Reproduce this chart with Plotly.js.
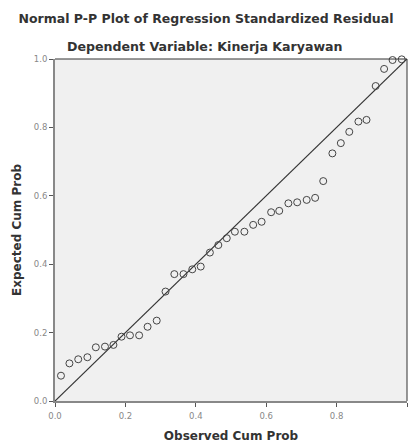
<!DOCTYPE html>
<html>
<head>
<meta charset="utf-8">
<script src="https://cdn.plot.ly/plotly-3.0.1.min.js"></script>
<style>html,body{margin:0;padding:0;background:#fff;}#chart{width:413px;height:443px;}</style>
</head>
<body>
<div id="chart"></div>
<script>
const observedCumProb = [0.017, 0.041, 0.066, 0.092, 0.116, 0.142, 0.166, 0.189, 0.213, 0.239,
  0.263, 0.289, 0.314, 0.339, 0.365, 0.390, 0.414, 0.440, 0.464, 0.488,
  0.511, 0.538, 0.563, 0.587, 0.614, 0.637, 0.663, 0.688, 0.715, 0.739,
  0.762, 0.788, 0.812, 0.836, 0.862, 0.885, 0.911, 0.935, 0.959, 0.985];
const expectedCumProb = [0.074, 0.110, 0.122, 0.128, 0.157, 0.159, 0.164, 0.188, 0.192, 0.192,
  0.217, 0.235, 0.320, 0.371, 0.371, 0.385, 0.393, 0.434, 0.456, 0.476,
  0.495, 0.495, 0.515, 0.524, 0.552, 0.556, 0.578, 0.581, 0.588, 0.594,
  0.643, 0.724, 0.754, 0.787, 0.817, 0.822, 0.921, 0.971, 0.997, 0.999];
const diagonalX = [0, 1];
const diagonalY = [0, 1];
const tickValues = [0, 0.2, 0.4, 0.6, 0.8, 1.0];
const tickLabels = ["0.0", "0.2", "0.4", "0.6", "0.8", "1.0"];

const FONT = 'DejaVu Sans, Arial, sans-serif';

const traces = [
  {
    x: diagonalX, y: diagonalY, type: 'scatter', mode: 'lines',
    line: {color: '#333333', width: 1.2}, hoverinfo: 'skip', showlegend: false
  },
  {
    x: observedCumProb, y: expectedCumProb, type: 'scatter', mode: 'markers',
    marker: {symbol: 'circle-open', size: 7, color: '#444444', line: {width: 1, color: '#444444'}},
    cliponaxis: false, showlegend: false
  }
];

const axisCommon = {
  range: [0, 1], tickvals: tickValues, ticktext: tickLabels,
  ticks: 'outside', ticklen: 4, tickcolor: '#555', tickwidth: 1,
  tickfont: {family: FONT, size: 8.5, color: '#888'},
  showgrid: false, zeroline: false, showline: true, linecolor: '#888', linewidth: 2,
  mirror: false, fixedrange: true
};

const layout = {
  width: 413, height: 443,
  margin: {l: 55, r: 6, t: 59, b: 42},
  paper_bgcolor: '#ffffff', plot_bgcolor: '#f0f0f0',
  title: {
    text: '<b>Normal P-P Plot of Regression Standardized Residual</b>',
    font: {family: FONT, size: 12.5, color: '#333'},
    x: 206 / 413, xref: 'container', xanchor: 'center', y: 1 - 19/443, yref: 'container', yanchor: 'middle'
  },
  annotations: [{
    text: '<b>Dependent Variable: Kinerja Karyawan</b>',
    xref: 'paper', yref: 'paper', x: (205 - 55) / 352, y: (401 - 46) / 342,
    xanchor: 'center', yanchor: 'middle', showarrow: false,
    font: {family: FONT, size: 12.6, color: '#333'}
  }],
  shapes: [
    {type: 'line', xref: 'paper', yref: 'paper', x0: 0, x1: 1, y0: 1, y1: 1, line: {color: '#333', width: 1}},
    {type: 'line', xref: 'paper', yref: 'paper', x0: 1, x1: 1, y0: 0, y1: 1, line: {color: '#333', width: 1}}
  ],
  xaxis: Object.assign({}, axisCommon, {
    ticklabelstandoff: 2,
    title: {text: '<b>Observed Cum Prob</b>', standoff: 12,
      font: {family: FONT, size: 12, color: '#333'}}
  }),
  yaxis: Object.assign({}, axisCommon, {
    title: {text: '<b>Expected Cum Prob</b>', standoff: 10,
      font: {family: FONT, size: 12, color: '#333'}}
  })
};

Plotly.newPlot('chart', traces, layout, {displayModeBar: false, staticPlot: true});
</script>
</body>
</html>
